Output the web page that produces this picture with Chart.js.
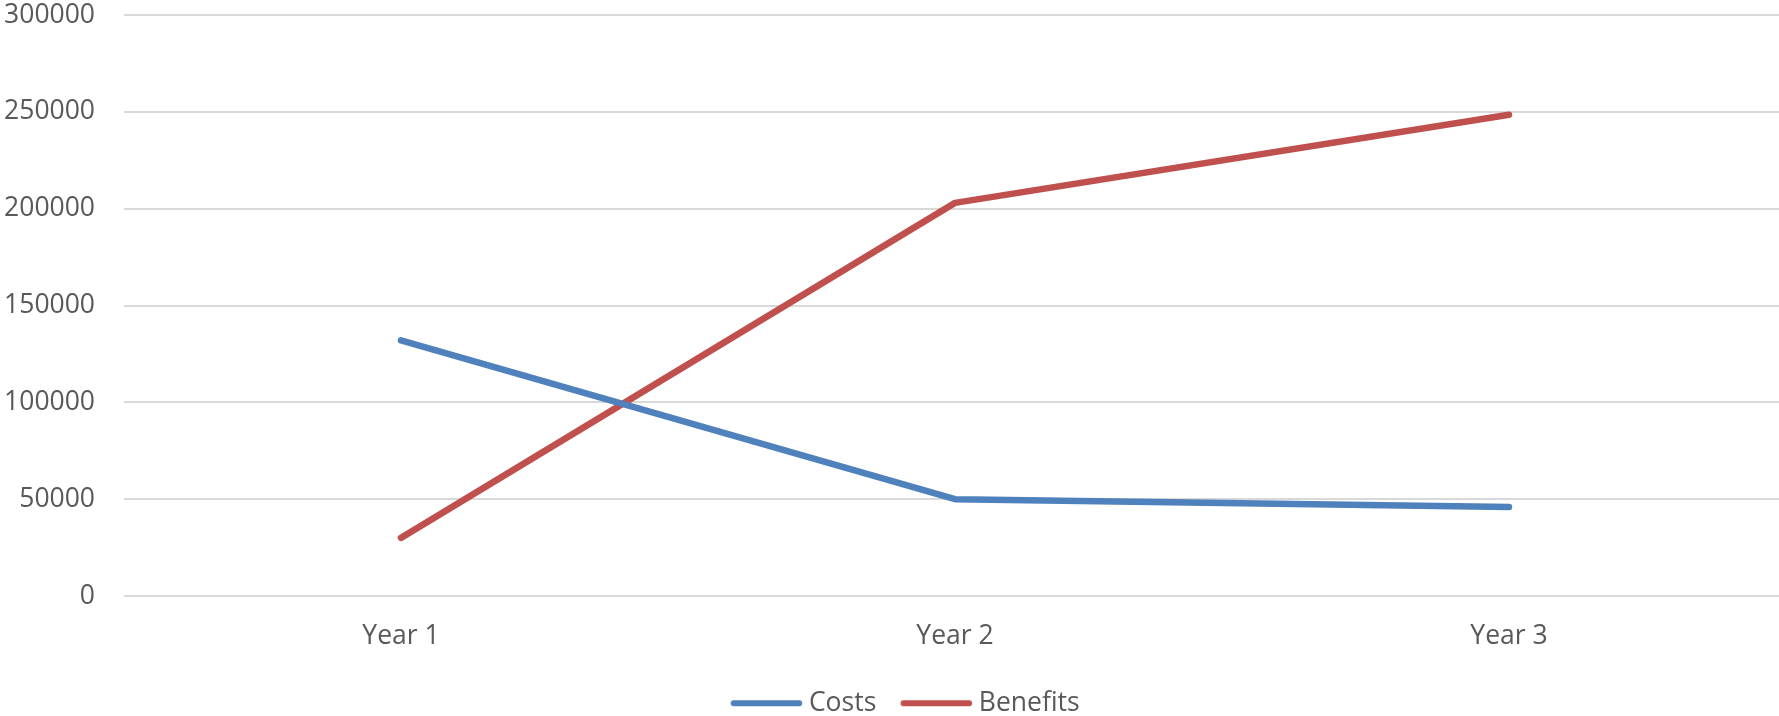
<!DOCTYPE html>
<html>
<head>
<meta charset="utf-8">
<script src="https://cdn.jsdelivr.net/npm/chart.js@4.4.1/dist/chart.umd.min.js"></script>
<style>
html,body{margin:0;padding:0;background:#fff;overflow:hidden;}
#wrap{position:relative;width:1786px;height:716px;}
</style>
</head>
<body>
<div id="wrap"><canvas id="c"></canvas></div>
<script>
const categories = ["Year 1", "Year 2", "Year 3"];
const costs = [132000, 50000, 46000];
const benefits = [30000, 203000, 248500];
const yTicks = [0, 50000, 100000, 150000, 200000, 250000, 300000];

const FONT = "'Open Sans', sans-serif";
const TXT = "#595959";
const FS = 26.5;

// legend swatch: a thick rounded line, drawn as a pointStyle image
function swatch(color) {
  const c = document.createElement('canvas');
  c.width = 200; c.height = 14;
  const g = c.getContext('2d');
  g.strokeStyle = color; g.lineWidth = 6; g.lineCap = 'round';
  g.beginPath(); g.moveTo(82.6, 7); g.lineTo(148.2, 7); g.stroke();
  return c;
}

const legendShift = {
  id: 'legendShift',
  afterLayout(chart) {
    if (chart.legend) { chart.legend.top += 10.5; chart.legend.bottom += 10.5; }
  }
};

new Chart(document.getElementById('c'), {
  type: 'line',
  data: {
    labels: categories,
    datasets: [
      { label: 'Costs', data: costs, borderColor: '#4F81BD', backgroundColor: '#4F81BD',
        borderWidth: 6.5, pointRadius: 0, borderCapStyle: 'round', borderJoinStyle: 'round', tension: 0 },
      { label: 'Benefits', data: benefits, borderColor: '#C0504D', backgroundColor: '#C0504D',
        borderWidth: 6.5, pointRadius: 0, borderCapStyle: 'round', borderJoinStyle: 'round', tension: 0 }
    ]
  },
  plugins: [legendShift],
  options: {
    responsive: true,
    maintainAspectRatio: false,
    animation: false,
    layout: { padding: { top: 0, right: 0, bottom: 0, left: 0 } },
    plugins: {
      tooltip: { enabled: false },
      legend: {
        position: 'bottom',
        labels: {
          usePointStyle: true, pointStyleWidth: 89.3, boxHeight: FS, padding: 0,
          color: TXT, font: { family: FONT, size: FS },
          generateLabels: (chart) => chart.data.datasets.map((d, i) => ({
            text: d.label, fillStyle: d.borderColor, strokeStyle: d.borderColor,
            lineWidth: 0, pointStyle: swatch(d.borderColor), datasetIndex: i,
            hidden: false, fontColor: TXT
          }))
        }
      }
    },
    scales: {
      x: {
        offset: true,
        grid: { display: false, drawTicks: false },
        border: { display: false },
        ticks: { color: TXT, font: { family: FONT, size: FS }, padding: 25 },
        afterFit: (s) => { s.height = 83.5; }
      },
      y: {
        min: 0, max: 300000,
        afterBuildTicks: (s) => { s.ticks = yTicks.map(v => ({ value: v })); },
        afterFit: (s) => { s.width = 124; s.paddingTop = 15; s.paddingBottom = 0; },
        grid: { color: '#D9D9D9', lineWidth: 2, drawTicks: false },
        border: { display: false },
        ticks: { color: TXT, font: { family: FONT, size: FS }, padding: 29,
          callback: (v) => String(v) }
      }
    }
  }
});
</script>
</body>
</html>
